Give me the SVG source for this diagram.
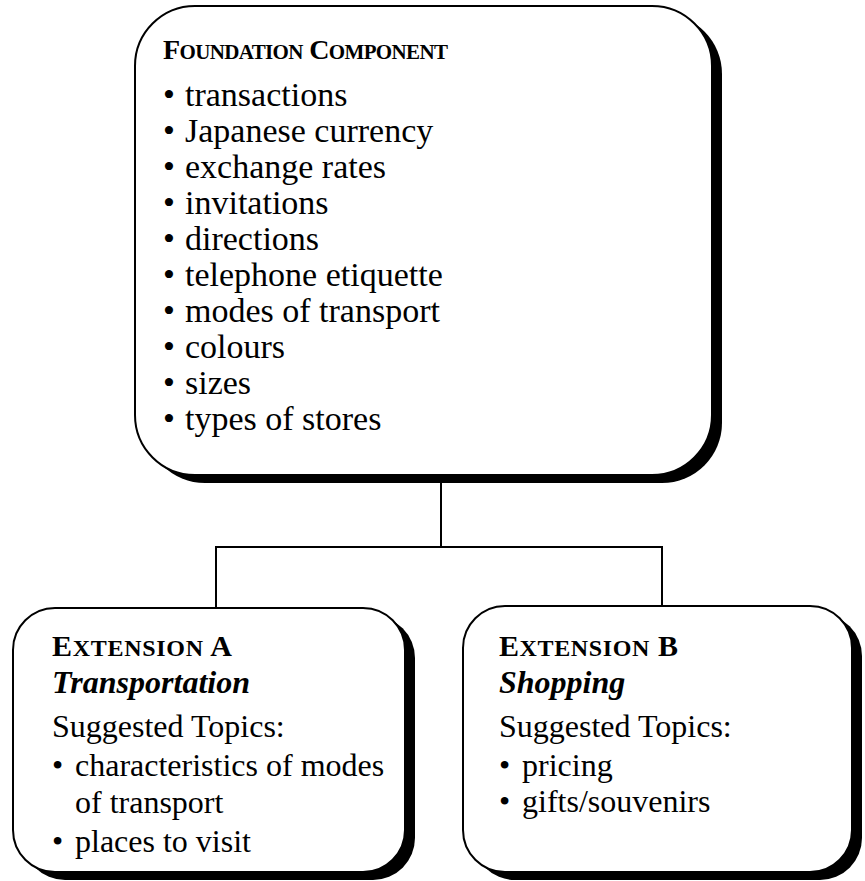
<svg xmlns="http://www.w3.org/2000/svg" width="865" height="881" viewBox="0 0 865 881">
  <style>
    text { font-family: "Liberation Serif", "Times New Roman", serif; fill: #000; }
    .body { font-size: 32px; }
    .body-lg { font-size: 34px; }
    .head { font-weight: bold; }
    .big { font-size: 28px; }
    .sc { font-size: 21px; }
    .big-x { font-size: 30px; }
    .sc-x { font-size: 24px; }
    .topic { font-size: 32px; font-weight: bold; font-style: italic; }
    .shadow { fill: #000; }
    .box { fill: #fff; stroke: #000; stroke-width: 2; }
    .conn { fill: none; stroke: #000; stroke-width: 2; }
  </style>
  <rect width="865" height="881" fill="#fff"/>

  <!-- connectors -->
  <g id="connectors">
    <path class="conn" d="M441 483 V547 M216 608 V547 H662 V606"/>
  </g>

  <!-- foundation component -->
  <g id="foundation">
    <rect class="shadow" x="145" y="14" width="577" height="469" rx="60"/>
    <rect class="box" x="135" y="6" width="577" height="469" rx="60"/>
    <text class="head" x="163" y="59" textLength="285" lengthAdjust="spacing"><tspan class="big">F</tspan><tspan class="sc">OUNDATION</tspan><tspan class="big"> C</tspan><tspan class="sc">OMPONENT</tspan></text>
    <g class="body-lg">
      <text x="163" y="106">•</text><text x="185" y="106">transactions</text>
      <text x="163" y="142">•</text><text x="185" y="142">Japanese currency</text>
      <text x="163" y="178">•</text><text x="185" y="178">exchange rates</text>
      <text x="163" y="214">•</text><text x="185" y="214">invitations</text>
      <text x="163" y="250">•</text><text x="185" y="250">directions</text>
      <text x="163" y="286">•</text><text x="185" y="286">telephone etiquette</text>
      <text x="163" y="322">•</text><text x="185" y="322">modes of transport</text>
      <text x="163" y="358">•</text><text x="185" y="358">colours</text>
      <text x="163" y="394">•</text><text x="185" y="394">sizes</text>
      <text x="163" y="430">•</text><text x="185" y="430">types of stores</text>
    </g>
  </g>

  <!-- extension A -->
  <g id="extension-a">
    <rect class="shadow" x="23" y="616" width="392" height="264" rx="42"/>
    <rect class="box" x="13" y="608" width="392" height="264" rx="42"/>
    <text class="head" x="52" y="656" textLength="180" lengthAdjust="spacing"><tspan class="big-x">E</tspan><tspan class="sc-x">XTENSION</tspan><tspan class="big-x"> A</tspan></text>
    <text class="topic" x="52" y="693">Transportation</text>
    <g class="body">
      <text x="52" y="737">Suggested Topics:</text>
      <text x="52" y="776">•</text><text x="75" y="776">characteristics of modes</text>
      <text x="75" y="813">of transport</text>
      <text x="52" y="852">•</text><text x="75" y="852">places to visit</text>
    </g>
  </g>

  <!-- extension B -->
  <g id="extension-b">
    <rect class="shadow" x="473" y="614" width="389" height="266" rx="42"/>
    <rect class="box" x="463" y="606" width="389" height="266" rx="42"/>
    <text class="head" x="499" y="656" textLength="179" lengthAdjust="spacing"><tspan class="big-x">E</tspan><tspan class="sc-x">XTENSION</tspan><tspan class="big-x"> B</tspan></text>
    <text class="topic" x="499" y="693">Shopping</text>
    <g class="body">
      <text x="499" y="737">Suggested Topics:</text>
      <text x="499" y="776">•</text><text x="522" y="776">pricing</text>
      <text x="499" y="812">•</text><text x="522" y="812">gifts/souvenirs</text>
    </g>
  </g>
</svg>
